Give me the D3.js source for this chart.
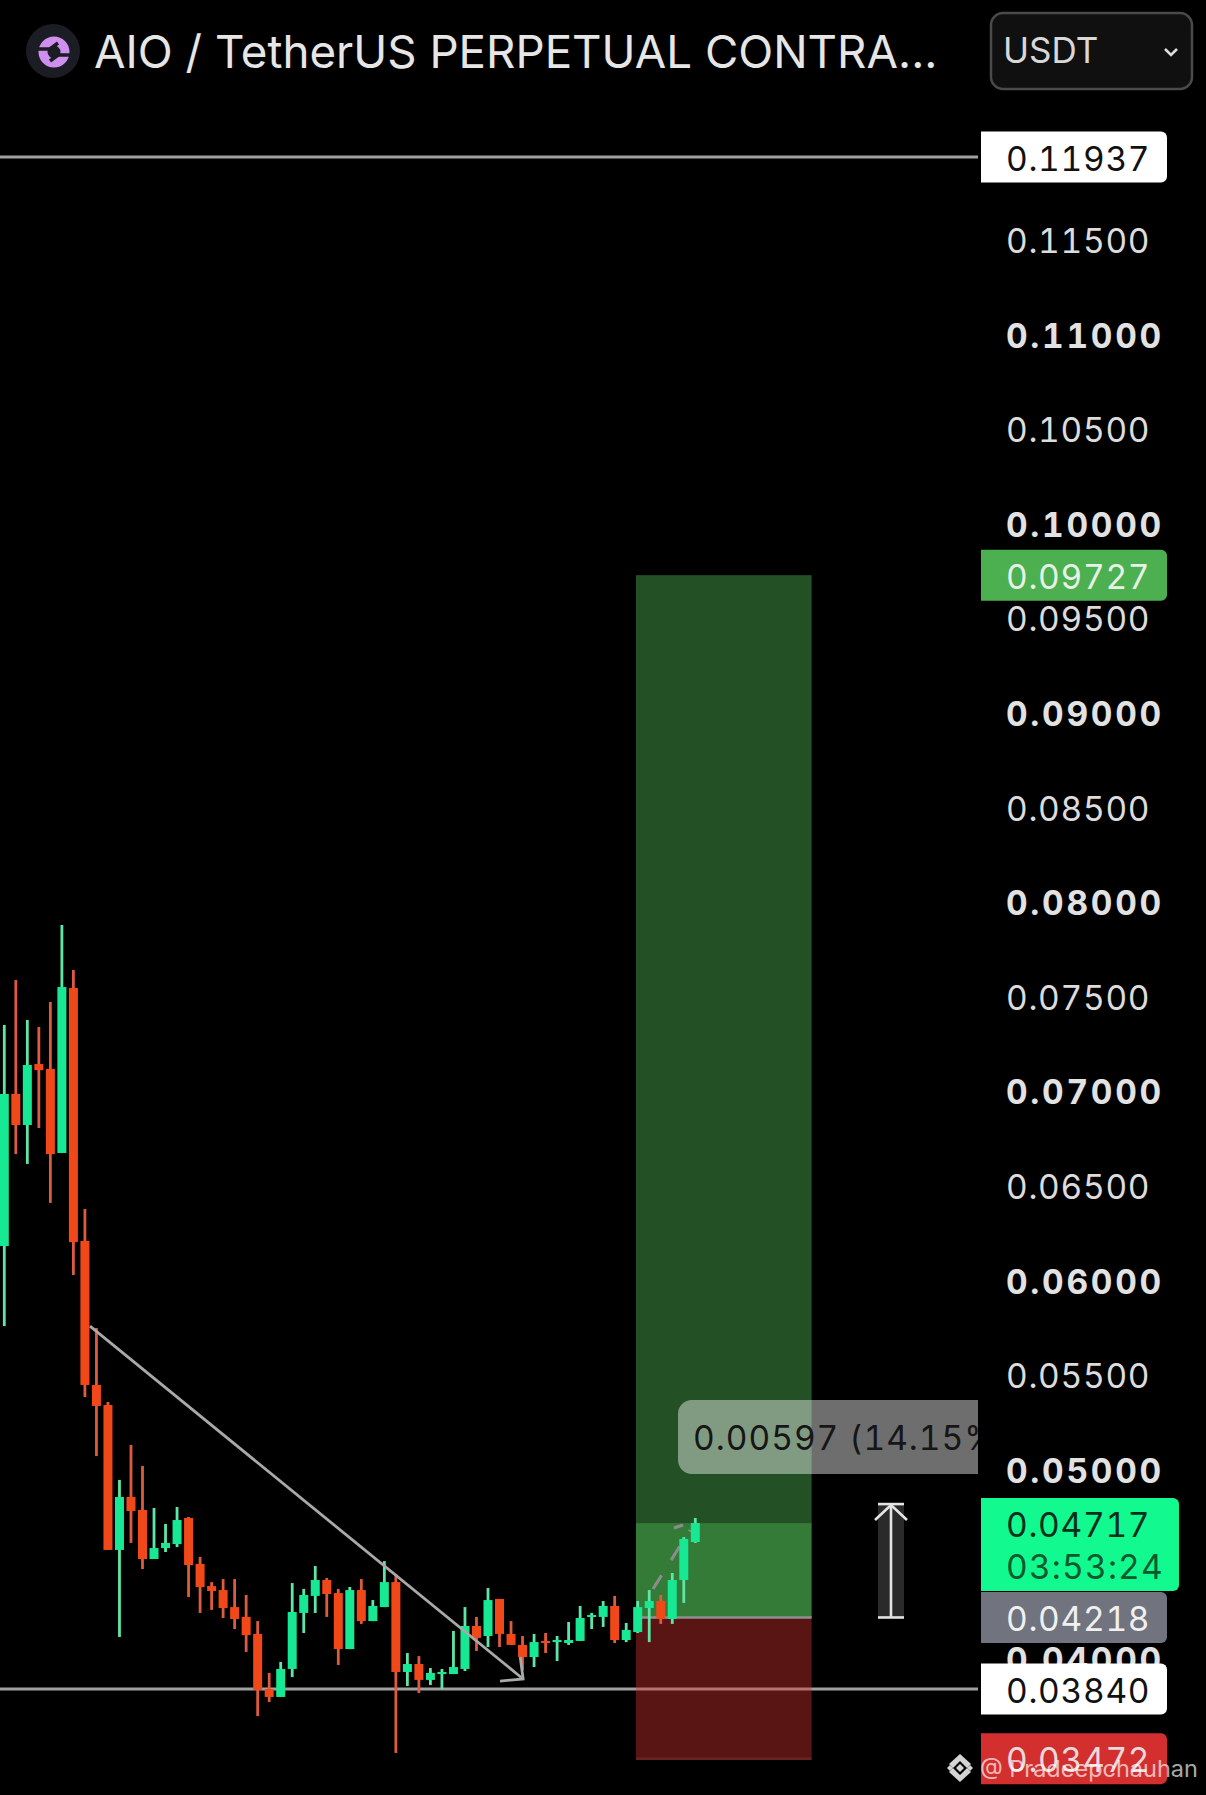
<!DOCTYPE html>
<html>
<head>
<meta charset="utf-8">
<script src="https://cdn.jsdelivr.net/npm/d3@7"></script>
<style>
html,body{margin:0;padding:0;background:#000;}
svg{display:block;font-family:Inter,"Noto Sans",sans-serif;}
.axis .domain,.axis line{display:none;}
.axis text{font-family:Inter,"Noto Sans",sans-serif;font-size:33.5px;letter-spacing:0.7px;fill:#dcdcdc;font-feature-settings:"tnum";}
.axis text.major{font-weight:700;fill:#e2e2e2;letter-spacing:2.7px;}
.tag{font-size:33.5px;letter-spacing:0.7px;font-feature-settings:"tnum";}
</style>
</head>
<body>
<svg id="chart"></svg>
<script>
// candles, oldest first
var opens = [.06181,.06985,.06821,.07143,.07117,.06673,.07545,.06208,.05447,.05341,
             .04575,.04855,.04786,.04527,.04585,.04606,.04744,.04501,.04384,.04363,
             .04273,.04221,.04131,.0384,.03798,.03946,.04242,.04332,.04416,.04347,
             .04051,.04363,.04199,.04273,.04405,.0393,.03972,.03888,.03919,.03919,
             .03946,.04173,.0412,.04316,.04131,.04073,.04009,.04094,.04088,.04083,
             .04094,.04221,.04221,.04279,.04099,.04141,.04268,.04305,.0421,.04416,.04617]
var highs = [.07349,.07587,.07376,.07339,.07471,.07878,.0764,.06377,.05748,.05357,
             .04945,.0513,.05019,.04797,.04712,.04802,.04749,.04538,.04405,.04421,
             .04421,.04337,.04199,.03925,.03983,.044,.04369,.0449,.04427,.04369,
             .04379,.04421,.0431,.04516,.04448,.0403,.04014,.03951,.03946,.04147,
             .04273,.04221,.04374,.04316,.04199,.0412,.04131,.04136,.0412,.04194,
             .04279,.04242,.04305,.04332,.04189,.04305,.04363,.04337,.04453,.04643,.04744]
var lows = [.05758,.06667,.06615,.06805,.06409,.06673,.06028,.05383,.05071,.04575,
            .04115,.04612,.04474,.04527,.04564,.0459,.04326,.04242,.04258,.04215,
            .04157,.04036,.03697,.03771,.03798,.03903,.04136,.04242,.04221,.03967,
            .04051,.04184,.04199,.04273,.03502,.03856,.03819,.03861,.0384,.03919,
            .03935,.04041,.04062,.04062,.04073,.0394,.03956,.0403,.03988,.04073,
            .04094,.04157,.04168,.04083,.04088,.04136,.04088,.04184,.04184,.04295,.04612]
var closes = [.06985,.06821,.07138,.07111,.06667,.0755,.06202,.05447,.05336,.04575,
              .04855,.04781,.04527,.04585,.04612,.04733,.04495,.04379,.04358,.04268,
              .0421,.04125,.03835,.03798,.03946,.04247,.04337,.04416,.04342,.04051,
              .04363,.04199,.04279,.04405,.0393,.03972,.03888,.03925,.0393,.03956,
              .04173,.0411,.0431,.04131,.04073,.04009,.04088,.04083,.04099,.04099,
              .04215,.04231,.04279,.04099,.04152,.04273,.04305,.0421,.04416,.04633,.04717]

var tickValues = [.04,.045,.05,.055,.06,.065,.07,.075,.08,.085,.09,.095,.1,.105,.11,.115]

var highLine = 0.11937
var lowLine = 0.0384
var entry = 0.04218
var target = 0.09727
var stop = 0.03472
var last = 0.04717
var countdown = "03:53:24"
var measureText = "0.00597 (14.15%)"

// drawings, as [candle index, price]
var trendLine = [[7.44,.05758],[45.05,.03893]]
var trendBarbs = [[[43.04,.03882],[45.05,.03893],[44.8,.04009]]]
var dashLine = [[56.33,.04369],[59.54,.0468]]
var dashBarb = [[58.15,.04691],[58.93,.04707]]

var screen = {width:1206,height:1795}
var paneRight = 978

var svg = d3.select("#chart")
    .attr("width",screen.width)
    .attr("height",screen.height)

var xScale = d3.scaleLinear().domain([0,60]).range([4.3,695.3])
var yScale = d3.scaleLinear().domain([lowLine,highLine]).range([1689,157])

svg.append("defs").append("clipPath").attr("id","pane")
    .append("rect").attr("x",0).attr("y",0)
    .attr("width",paneRight).attr("height",screen.height)

var pane = svg.append("g").attr("clip-path","url(#pane)")

// horizontal levels
pane.selectAll("line.level")
    .data([highLine,lowLine])
    .enter()
    .append("line")
    .classed("level",true)
    .attr("x1",0)
    .attr("x2",paneRight)
    .attr("y1",yScale)
    .attr("y2",yScale)
    .attr("stroke","#a0a0a0")
    .attr("stroke-width",2.8)

// long position box
var boxLeft = xScale(54.85)
var boxRight = xScale(70.1)
var boxes = [
    {top:target,bottom:last,color:"#4caf50",op:.46},
    {top:last,bottom:entry,color:"#4caf50",op:.7},
    {top:entry,bottom:stop,color:"#d32f2f",op:.42}
]
pane.selectAll("rect.box")
    .data(boxes)
    .enter()
    .append("rect")
    .classed("box",true)
    .attr("x",boxLeft)
    .attr("width",boxRight-boxLeft)
    .attr("y",function(d){return yScale(d.top)})
    .attr("height",function(d){return yScale(d.bottom)-yScale(d.top)})
    .attr("fill",function(d){return d.color})
    .attr("fill-opacity",function(d){return d.op})

pane.append("line")
    .attr("x1",boxLeft).attr("x2",boxRight)
    .attr("y1",yScale(entry)).attr("y2",yScale(entry))
    .attr("stroke","#8f8f8f").attr("stroke-width",2.5)
pane.append("line")
    .attr("x1",boxLeft).attr("x2",boxRight)
    .attr("y1",yScale(stop)).attr("y2",yScale(stop))
    .attr("stroke","#6a2222").attr("stroke-width",2.5)

// grey drawings
var drawLine = d3.line()
    .x(function(d){return xScale(d[0])})
    .y(function(d){return yScale(d[1])})

pane.append("path")
    .attr("d",drawLine(dashLine))
    .attr("fill","none").attr("stroke","#8c8c8c")
    .attr("stroke-width",3).attr("stroke-dasharray","16 18")
pane.append("path")
    .attr("d",drawLine(dashBarb))
    .attr("fill","none").attr("stroke","#8c8c8c")
    .attr("stroke-width",3)

// candles
var candles = d3.range(opens.length)
var isUp = function(i){return closes[i]>=opens[i]}
var bodyWidth = 9

pane.selectAll("line.wick")
    .data(candles)
    .enter()
    .append("line")
    .classed("wick",true)
    .attr("x1",function(i){return xScale(i)})
    .attr("x2",function(i){return xScale(i)})
    .attr("y1",function(i){return yScale(highs[i])})
    .attr("y2",function(i){return yScale(lows[i])})
    .attr("stroke",function(i){return isUp(i)?"#5de6a8":"#dd5b3e"})
    .attr("stroke-width",2.8)

pane.selectAll("rect.body")
    .data(candles)
    .enter()
    .append("rect")
    .classed("body",true)
    .attr("x",function(i){return xScale(i)-bodyWidth/2})
    .attr("width",bodyWidth)
    .attr("y",function(i){return yScale(Math.max(opens[i],closes[i]))})
    .attr("height",function(i){
        return Math.max(2,Math.abs(yScale(opens[i])-yScale(closes[i])))
    })
    .attr("fill",function(i){return isUp(i)?"#17e893":"#f1481a"})

pane.append("path")
    .attr("d",drawLine(trendLine))
    .attr("fill","none").attr("stroke","#a9a9a9").attr("stroke-width",2.8)
pane.append("path")
    .attr("d",drawLine(trendBarbs[0]))
    .attr("fill","none").attr("stroke","#a9a9a9").attr("stroke-width",2.8)

// measure tooltip, cut by the pane edge
pane.append("rect")
    .attr("x",678).attr("y",1400)
    .attr("width",340).attr("height",74)
    .attr("rx",14)
    .attr("fill","#fff").attr("fill-opacity",.43)
pane.append("text")
    .text(measureText)
    .attr("x",693).attr("y",1450)
    .attr("font-size",33.5)
    .attr("letter-spacing",1)
    .style("font-feature-settings",'"tnum"')
    .attr("fill","#161616")

// price range arrow
var arrowX = 891
svg.append("rect")
    .attr("x",arrowX-13).attr("width",26)
    .attr("y",yScale(last)-19)
    .attr("height",yScale(entry)-yScale(last)+19)
    .attr("fill","#2a2a2a")
var arrow = svg.append("g")
    .attr("stroke","#e4e4e4").attr("stroke-width",2.6).attr("fill","none")
arrow.append("line")
    .attr("x1",arrowX).attr("x2",arrowX)
    .attr("y1",yScale(last)-19).attr("y2",yScale(entry))
arrow.append("line")
    .attr("x1",arrowX-13).attr("x2",arrowX+13)
    .attr("y1",yScale(last)-19).attr("y2",yScale(last)-19)
arrow.append("line")
    .attr("x1",arrowX-13).attr("x2",arrowX+13)
    .attr("y1",yScale(entry)).attr("y2",yScale(entry))
arrow.append("path")
    .attr("d","M"+(arrowX-16)+","+(yScale(last)-3)+"L"+arrowX+","+(yScale(last)-18)+"L"+(arrowX+16)+","+(yScale(last)-3))

// price axis
var axis = svg.append("g")
    .classed("axis",true)
    .attr("transform","translate(1006,2)")
    .call(d3.axisRight(yScale)
        .tickValues(tickValues)
        .tickSize(0)
        .tickPadding(0)
        .tickFormat(d3.format(".5f")))
axis.selectAll("text")
    .classed("major",function(d){return Math.round(d*1000)%10==0})

// price tags
var tags = [
    {value:highLine,fill:"#fff",color:"#111"},
    {value:target,fill:"#4caf50",color:"#e6f2e6"},
    {value:entry,fill:"#71737e",color:"#f0f0f0"},
    {value:lowLine,fill:"#fff",color:"#111"},
    {value:stop,fill:"#d32f2f",color:"#e8dada"}
]
var tagFormat = d3.format(".5f")
var tagG = svg.selectAll("g.tagbox")
    .data(tags)
    .enter()
    .append("g")
    .classed("tagbox",true)
    .attr("transform",function(d){return "translate(981,"+yScale(d.value)+")"})
tagG.append("path")
    .attr("d","M0,-25.5H180a6,6 0 0 1 6,6V19.5a6,6 0 0 1 -6,6H0Z")
    .attr("fill",function(d){return d.fill})
tagG.append("text")
    .classed("tag",true)
    .text(function(d){return tagFormat(d.value)})
    .attr("x",25)
    .attr("y",1.5)
    .attr("dy","0.36em")
    .attr("fill",function(d){return d.color})

// last price tag with countdown
var lastTag = svg.append("g").attr("transform","translate(981,1498)")
lastTag.append("path")
    .attr("d","M0,0H192a6,6 0 0 1 6,6V87a6,6 0 0 1 -6,6H0Z")
    .attr("fill","#12f990")
lastTag.append("text").classed("tag",true)
    .text(tagFormat(last))
    .attr("x",25).attr("y",39).attr("fill","#07301b")
lastTag.append("text").classed("tag",true)
    .text(countdown)
    .attr("x",25).attr("y",81).attr("fill","#0a5a2d")
    .style("letter-spacing","1.2px")

// header
var header = svg.append("g")
header.append("circle")
    .attr("cx",53).attr("cy",51).attr("r",27).attr("fill","#1c1c24")
var logo = header.append("g")
    .attr("transform","translate(54,52)")
logo.append("circle")
    .attr("r",11).attr("fill","none")
    .attr("stroke","#cf8fef").attr("stroke-width",9)
logo.append("path").attr("d","M-18,-3H-4L4,-9M18,3H4L-4,9")
    .attr("fill","none").attr("stroke","#1c1c24").attr("stroke-width",3.5)

header.append("text")
    .text("AIO / TetherUS PERPETUAL CONTRA...")
    .attr("x",94).attr("y",68)
    .attr("font-size",45.7)
    .attr("fill","#e6e6e6")

header.append("rect")
    .attr("x",991).attr("y",13)
    .attr("width",201).attr("height",76)
    .attr("rx",12)
    .attr("fill","#101010").attr("stroke","#4a4a4a").attr("stroke-width",2.5)
header.append("text")
    .text("USDT")
    .attr("x",1003).attr("y",63)
    .attr("font-size",35)
    .attr("fill","#d8d8d8")
header.append("path")
    .attr("d","M1165,49L1171,55L1177,49")
    .attr("fill","none").attr("stroke","#dcdcdc").attr("stroke-width",2.6)

// watermark
var mark = svg.append("g").attr("transform","translate(960,1768)").attr("fill","#d4d4d4")
mark.selectAll("path")
    .data(["M0,-14L11,-4L7,0L0,-7L-7,0L-11,-4Z","M0,14L11,4L7,0L0,7L-7,0L-11,4Z",
           "M-13,0L-10,-3L-7,0L-10,3Z","M13,0L10,-3L7,0L10,3Z","M0,-4L4,0L0,4L-4,0Z"])
    .enter()
    .append("path")
    .attr("d",function(d){return d})
svg.append("text")
    .text("@ Pradeepchauhan")
    .attr("x",980).attr("y",1777)
    .attr("font-size",23.5)
    .attr("fill","#fff").attr("fill-opacity",.68)
</script>
</body>
</html>
